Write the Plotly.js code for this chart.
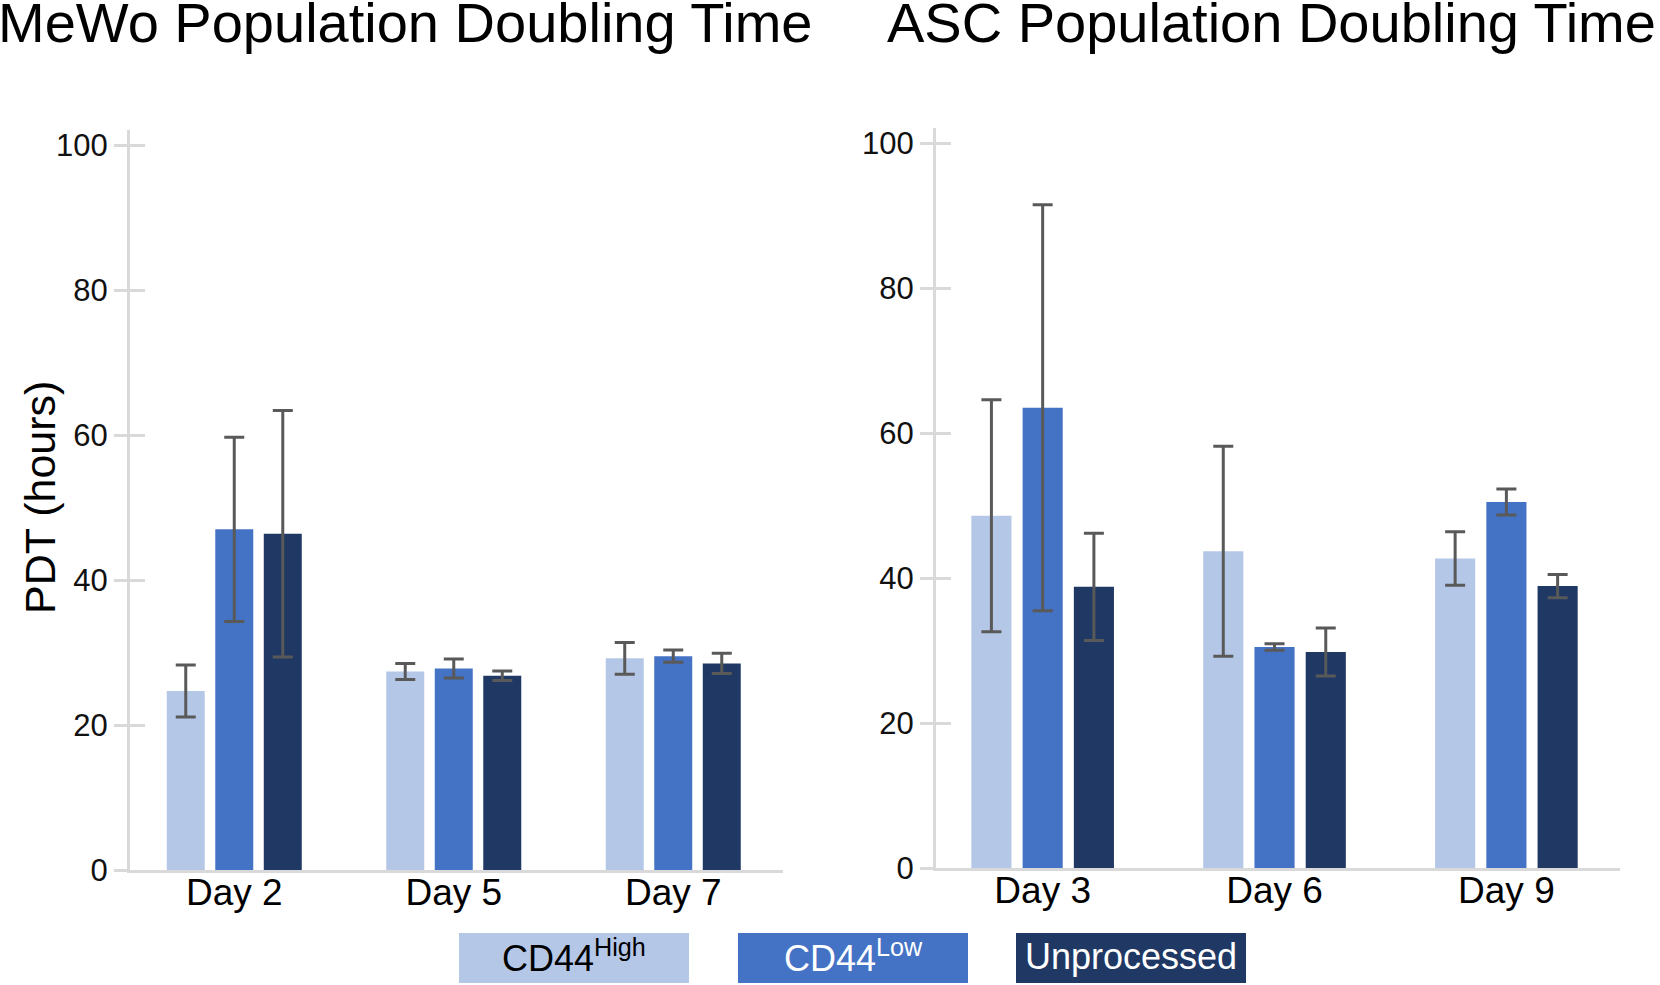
<!DOCTYPE html>
<html>
<head>
<meta charset="utf-8">
<script src="https://cdn.plot.ly/plotly-3.0.1.min.js"></script>
<style>
html,body{margin:0;padding:0;background:#fff;}
#chart{width:1660px;height:985px;}
</style>
</head>
<body>
<div id="chart"></div>
<script>
// ---- data ----
const seriesNames = ['CD44<sup>High</sup>', 'CD44<sup>Low</sup>', 'Unprocessed'];
const seriesColors = ['#b4c7e7', '#4472c4', '#1f3864'];
const legendTextColors = ['#000000', '#ffffff', '#ffffff'];

const mewoDays = ['Day 2', 'Day 5', 'Day 7'];
const mewoHigh = [24.7, 27.4, 29.2];
const mewoHighErr = [3.6, 1.1, 2.2];
const mewoLow = [47.0, 27.8, 29.5];
const mewoLowErr = [12.7, 1.3, 0.85];
const mewoUnp = [46.4, 26.8, 28.5];
const mewoUnpErr = [17.0, 0.65, 1.4];

const ascDays = ['Day 3', 'Day 6', 'Day 9'];
const ascHigh = [48.6, 43.7, 42.7];
const ascHighErr = [16.0, 14.5, 3.7];
const ascLow = [63.5, 30.5, 50.5];
const ascLowErr = [28.0, 0.45, 1.8];
const ascUnp = [38.8, 29.8, 38.9];
const ascUnpErr = [7.4, 3.3, 1.6];

const yTickVals = [0, 20, 40, 60, 80, 100];
const panelTitles = ['MeWo Population Doubling Time', 'ASC Population Doubling Time'];
const yTitle = 'PDT (hours)';

// ---- build ----
const W = 1660, H = 985;
const px = v => v / W;
const py = v => 1 - v / H;
const FONT = 'Liberation Sans, Arial, sans-serif';
const GRID = '#d9d9d9';
const ERR = '#595959';

function barTrace(x, y, err, i, xa, ya) {
  return {
    type: 'bar', x: x, y: y, name: seriesNames[i], xaxis: xa, yaxis: ya,
    marker: {color: seriesColors[i], line: {width: 0}},
    error_y: {type: 'data', array: err, visible: true, color: ERR, thickness: 3, width: 10},
    showlegend: false, hoverinfo: 'x+y'
  };
}

const traces = [
  barTrace(mewoDays, mewoHigh, mewoHighErr, 0, 'x', 'y'),
  barTrace(mewoDays, mewoLow, mewoLowErr, 1, 'x', 'y'),
  barTrace(mewoDays, mewoUnp, mewoUnpErr, 2, 'x', 'y'),
  barTrace(ascDays, ascHigh, ascHighErr, 0, 'x2', 'y2'),
  barTrace(ascDays, ascLow, ascLowErr, 1, 'x2', 'y2'),
  barTrace(ascDays, ascUnp, ascUnpErr, 2, 'x2', 'y2'),
  {type: 'scatter', x: [], y: [], xaxis: 'x', yaxis: 'y3', showlegend: false, hoverinfo: 'skip'},
  {type: 'scatter', x: [], y: [], xaxis: 'x2', yaxis: 'y4', showlegend: false, hoverinfo: 'skip'}
];

const yRangeL = [0, 102.1];
const yRangeR = [0, 102.1];
const yDomL = [py(870), py(130)];
const yDomR = [py(868), py(128)];

function yAxis(dom, rng, anchor) {
  return {
    domain: dom, range: rng, anchor: anchor, showgrid: false, zeroline: false,
    showline: true, linecolor: GRID, linewidth: 3,
    ticks: 'outside', ticklen: 13, tickwidth: 3, tickcolor: GRID,
    tickvals: yTickVals, ticktext: yTickVals.map(String),
    tickfont: {family: FONT, size: 31, color: '#111'}, fixedrange: true
  };
}
function yInner(dom, rng, anchor, over) {
  return {
    domain: dom, range: rng, anchor: anchor, overlaying: over, showgrid: false, zeroline: false,
    showline: false, ticks: 'inside', ticklen: 15, tickwidth: 3, tickcolor: GRID,
    tickvals: yTickVals, showticklabels: false, fixedrange: true
  };
}
function xAxis(dom, rng, anchor) {
  return {
    domain: dom, range: rng, anchor: anchor, type: 'category', showgrid: false, zeroline: false,
    showline: true, linecolor: GRID, linewidth: 3, ticks: '', ticklabelstandoff: -12,
    tickfont: {family: FONT, size: 37, color: '#000'}, fixedrange: true
  };
}

const annotations = [
  {text: panelTitles[0], xref: 'paper', yref: 'paper', x: px(405), y: 1, xanchor: 'center', yanchor: 'top',
   yshift: 10, borderpad: 0, showarrow: false, font: {family: FONT, size: 56, color: '#000'}},
  {text: panelTitles[1], xref: 'paper', yref: 'paper', x: px(1271), y: 1, xanchor: 'center', yanchor: 'top',
   yshift: 10, borderpad: 0, showarrow: false, font: {family: FONT, size: 56, color: '#000'}},
  {text: yTitle, xref: 'paper', yref: 'paper', x: px(40), y: py(498), xanchor: 'center', yanchor: 'middle',
   textangle: -90, showarrow: false, font: {family: FONT, size: 43, color: '#000'}}
];

const boxX = [[459, 689], [738, 968], [1016, 1246]];
const shapes = [];
seriesNames.forEach((n, i) => {
  shapes.push({type: 'rect', xref: 'paper', yref: 'paper', x0: px(boxX[i][0]), x1: px(boxX[i][1]),
    y0: py(983), y1: py(933), fillcolor: seriesColors[i], line: {width: 0}, layer: 'above'});
  annotations.push({text: n, xref: 'paper', yref: 'paper', x: px((boxX[i][0] + boxX[i][1]) / 2), y: py(956),
    xanchor: 'center', yanchor: 'middle', showarrow: false,
    font: {family: FONT, size: 36, color: legendTextColors[i]}});
});

const layout = {
  width: W, height: H, margin: {l: 0, r: 0, t: 0, b: 0},
  paper_bgcolor: '#fff', plot_bgcolor: 'rgba(0,0,0,0)',
  barmode: 'group', bargap: 0.337, bargroupgap: 0.217,
  showlegend: false,
  xaxis: xAxis([px(130), px(783)], [-0.475, 2.5], 'y'),
  yaxis: yAxis(yDomL, yRangeL, 'x'),
  xaxis2: xAxis([px(936), px(1620)], [-0.46, 2.49], 'y2'),
  yaxis2: yAxis(yDomR, yRangeR, 'x2'),
  yaxis3: yInner(yDomL, yRangeL, 'x', 'y'),
  yaxis4: yInner(yDomR, yRangeR, 'x2', 'y2'),
  annotations: annotations, shapes: shapes
};

Plotly.newPlot('chart', traces, layout, {displayModeBar: false, staticPlot: true});
</script>
</body>
</html>
